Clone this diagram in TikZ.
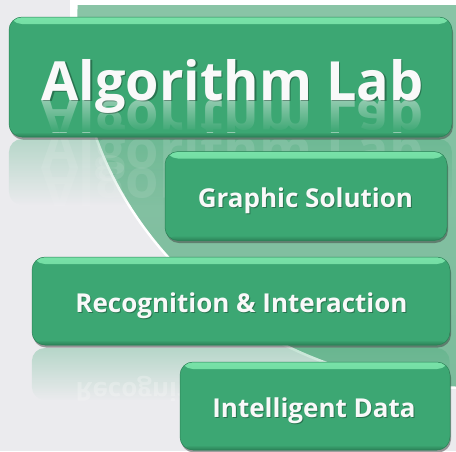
\documentclass[tikz,border=0pt]{standalone}
\usepackage{fontspec}
\setsansfont{Open Sans}
\usetikzlibrary{shadows,fadings}
\definecolor{tilegreen}{HTML}{3CA773}
\definecolor{tilelight}{HTML}{78E2A8}
\definecolor{tiledark}{HTML}{2B8056}
\definecolor{panelgreen}{HTML}{95CBB0}
\definecolor{panelgreendark}{HTML}{7CBC9C}
\definecolor{backgray}{HTML}{EBEBEE}
\tikzfading[name=reflectfade, top color=transparent!70, bottom color=transparent!100]
\tikzfading[name=coverfade, top color=transparent!100, bottom color=transparent!0]

\begin{document}
\begin{tikzpicture}[x=1pt, y=-1pt,
  tile/.style={rectangle, rounded corners=13pt, fill=tilegreen, draw=tiledark, line width=0.5pt, inner sep=0pt, outer sep=0pt,
    drop shadow={shadow xshift=1pt, shadow yshift=-2.5pt, opacity=0.5, fill=black!75},
    path picture={
      \shade[top color=tilelight, bottom color=tilegreen] (path picture bounding box.north west) rectangle ([yshift=-7pt]path picture bounding box.north east);
      \shade[top color=tilegreen, bottom color=tiledark] ([yshift=5pt]path picture bounding box.south west) rectangle (path picture bounding box.south east);}},
  tiletext/.style={font=\sffamily\bfseries\fontsize{#1}{#1}\selectfont, text=white!95!gray, anchor=base, inner sep=0pt},
  textshade/.style={tiletext=#1, text=black, opacity=0.3}]
\useasboundingbox (0,0) rectangle (456,451);
\fill[backgray] (0,0) rectangle (456,451);
\fill[white] (70,0) rectangle (456,40);
\begin{scope}
\clip (76,5) rectangle (460,455);
\shadedraw[top color=panelgreen, bottom color=panelgreendark, draw=white, line width=2.5pt] (470,22) ellipse [x radius=394pt, y radius=366pt];
\end{scope}

\begin{scope}
\clip (0,139) rectangle (456,205);
\fill[tilegreen, path fading=reflectfade, rounded corners=13pt] (9,139) rectangle (452,205);
\node[tiletext=54, opacity=0.12] (labupper) at (232.5,168) {Algorithm Lab};
\node[tiletext=54, opacity=0.1] (labecho) at (232.5,168) {\scalebox{1}[-1]{Algorithm Lab}};
\end{scope}
\begin{scope}
\clip (0,348) rectangle (456,400);
\fill[tilegreen, path fading=reflectfade, rounded corners=13pt] (32,348) rectangle (450,400);
\node[tiletext=26, opacity=0.3] (recogecho) at (241.5,382) {\scalebox{1}[-1]{Recognition \& Interaction}};
\end{scope}

\node[tile, minimum width=443pt, minimum height=120pt] (lab) at (230.5,77) {};
\node[tile, minimum width=282pt, minimum height=89pt] (graphic) at (306,196) {};
\node[tile, minimum width=418pt, minimum height=88pt] (recog) at (241,301) {};
\node[tile, minimum width=270pt, minimum height=88pt] (data) at (315,406) {};

\begin{scope}
\clip (24,100) rectangle (437,132);
\node[tiletext=54, opacity=0.45] (labmirror) at (232.5,100) {\scalebox{1}[-1]{Algorithm Lab}};
\fill[tilegreen, path fading=coverfade] (24,100) rectangle (437,132);
\end{scope}

\node[textshade=54] (labshade) at (234,101.5) {Algorithm Lab};
\node[tiletext=54] (labtext) at (232.5,100) {Algorithm Lab};
\node[textshade=26] (graphicshade) at (306.5,208) {Graphic Solution};
\node[tiletext=26] (graphictext) at (305.5,207) {Graphic Solution};
\node[textshade=26] (recogshade) at (242.5,313) {Recognition \& Interaction};
\node[tiletext=26] (recogtext) at (241.5,312) {Recognition \& Interaction};
\node[textshade=26] (datashade) at (315,418) {Intelligent Data};
\node[tiletext=26] (datatext) at (314,417) {Intelligent Data};
\end{tikzpicture}
\end{document}
